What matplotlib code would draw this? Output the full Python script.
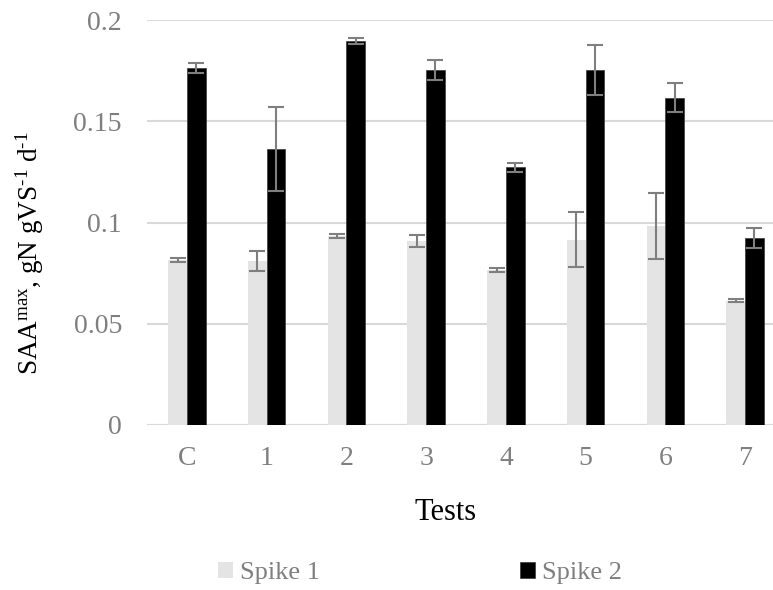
import matplotlib
matplotlib.use('Agg')
import matplotlib.pyplot as plt
import numpy as np

# data
tests = ['C', '1', '2', '3', '4', '5', '6', '7']
spike1 = [0.0815, 0.081, 0.0933, 0.091, 0.0765, 0.0914, 0.0983, 0.0614]
spike1_err = [0.0008, 0.005, 0.0008, 0.003, 0.0008, 0.0136, 0.0163, 0.0008]
spike2 = [0.1764, 0.1363, 0.1898, 0.1753, 0.1272, 0.1753, 0.1616, 0.0922]
spike2_err = [0.0025, 0.0206, 0.0015, 0.0049, 0.0022, 0.0122, 0.0071, 0.0049]

plt.rcParams['font.family'] = ['Liberation Serif', 'DejaVu Serif']
plt.rcParams['mathtext.fontset'] = 'custom'
plt.rcParams['mathtext.rm'] = 'Liberation Serif'
plt.rcParams['mathtext.it'] = 'Liberation Serif:italic'

grey_text = '#7f7f7f'
err_color = '#7f7f7f'

fig = plt.figure(figsize=(7.73, 5.90), dpi=100)
# plot area: x from 147 px to 785 px (runs past the right edge), y from 20 to 425 px
ax = fig.add_axes([147 / 773, 1 - 425 / 590, (785 - 147) / 773, (425 - 20) / 590])

x = np.arange(len(tests))
w = 0.235
ax.bar(x - w / 2, spike1, w, color='#e4e4e4', label='Spike 1', zorder=2)
ax.bar(x + w / 2, spike2, w, color='#000000', edgecolor='#3a3a3a', linewidth=0.5,
       label='Spike 2', zorder=2)
ax.errorbar(x - w / 2, spike1, yerr=spike1_err, fmt='none', ecolor=err_color,
            elinewidth=1.5, capsize=5.5, capthick=1.5, zorder=3)
ax.errorbar(x + w / 2, spike2, yerr=spike2_err, fmt='none', ecolor=err_color,
            elinewidth=1.5, capsize=5.5, capthick=1.5, zorder=3)

ax.set_xlim(-0.5, 7.5)
ax.set_ylim(0, 0.2)
ax.set_yticks([0, 0.05, 0.1, 0.15, 0.2])
ax.set_yticklabels(['0', '0.05', '0.1', '0.15', '0.2'])
ax.set_xticks(x)
ax.set_xticklabels(tests)
ax.yaxis.grid(True, color='#d9d9d9', linewidth=1.5, zorder=0)
ax.set_axisbelow(True)
for s in ['top', 'right', 'left', 'bottom']:
    ax.spines[s].set_visible(False)
ax.axhline(0, color='#d9d9d9', linewidth=1.5, zorder=1)
ax.tick_params(axis='both', length=0, labelsize=20, colors=grey_text)
ax.tick_params(axis='y', pad=18)
ax.tick_params(axis='x', pad=15)

fig.text(30 / 773, 1 - 253 / 590,
         r'SAA$^{\text{max}}$, gN gVS$^{\text{-1}}$ d$^{\text{-1}}$',
         rotation=90, ha='center', va='center', fontsize=19.5, color='black')
fig.text(446 / 773, 1 - 512 / 590, 'Tests', ha='center', va='center',
         fontsize=22, color='black')

leg = fig.legend(loc='center', bbox_to_anchor=(420 / 773, 1 - 573 / 590), ncol=2,
                 frameon=False, fontsize=19, handlelength=0.55, handleheight=0.55,
                 handletextpad=0.27, columnspacing=7.6)
for t in leg.get_texts():
    t.set_color(grey_text)

fig.savefig('out.png', dpi=100)
